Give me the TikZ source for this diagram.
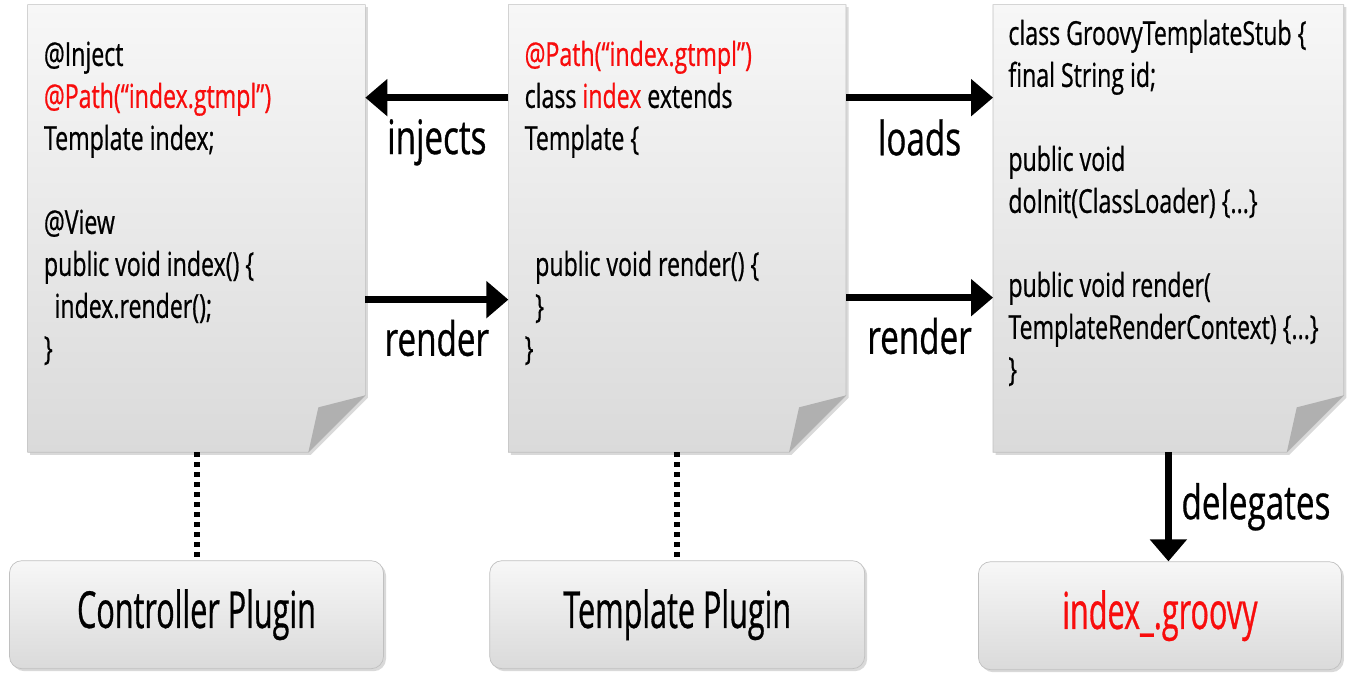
\documentclass[tikz,border=0pt]{standalone}
\usepackage{fontspec}
\setmainfont[FakeStretch=0.7, FakeBold=0.6]{Open Sans}
\newfontfamily\boxfont[FakeStretch=0.6, FakeBold=0.6]{Open Sans}
\usepackage{xcolor}
\usepackage{tikz}
\usetikzlibrary{shapes,arrows,arrows.meta,positioning,calc,fit,shadows}
\definecolor{pagetop}{RGB}{247, 247, 247}
\definecolor{pagebottom}{RGB}{218, 218, 218}
\definecolor{pageline}{RGB}{192, 192, 192}
\definecolor{foldgray}{RGB}{176, 176, 176}
\definecolor{annored}{RGB}{248, 12, 12}

\newcommand{\codefont}{\fontsize{18.8}{23.9}\selectfont}
% page outline with a folded bottom right corner
\newcommand{\dogear}[1]{%
  \path[draw=pageline, top color=pagetop, bottom color=pagebottom,
        drop shadow={shadow xshift=0.05cm, shadow yshift=-0.05cm, opacity=0.3}]
    (#1.north west) -- (#1.north east) -- ([yshift=1.14cm]#1.south east)
    -- ([xshift=-1.14cm]#1.south east) -- (#1.south west) -- cycle;
  \fill[foldgray] ([yshift=1.14cm]#1.south east) -- ([shift={(-0.94cm,0.9cm)}]#1.south east)
    -- ([xshift=-1.14cm]#1.south east) -- cycle;}

\begin{document}
\begin{tikzpicture}[
    docpage/.style={minimum width=6.74cm, minimum height=8.94cm, inner sep=0pt},
    codetext/.style={anchor=north west, inner sep=0pt, align=left, font=\codefont},
    plugin/.style={draw=pageline, rounded corners=7pt, top color=pagetop, bottom color=pagebottom,
        drop shadow={shadow xshift=0.05cm, shadow yshift=-0.05cm, opacity=0.3},
        minimum height=2.16cm, font=\boxfont\fontsize{29}{34}\selectfont},
    lbl/.style={font=\fontsize{27}{31}\selectfont},
    flow/.style={-{Triangle[length=0.44cm, width=0.72cm]}, line width=0.13cm},
    tie/.style={line width=0.12cm, dash pattern=on 0.1cm off 0.1cm}]
    \useasboundingbox (0,0) rectangle (27.22,13.62);

    % the three source pages
    \node [docpage] (ctrldoc) at (3.93,9.05) {};
    \node [docpage, right=2.86cm of ctrldoc] (tmpldoc) {};
    \node [docpage, minimum width=7cm, right=2.94cm of tmpldoc] (stubdoc) {};
    \dogear{ctrldoc}
    \dogear{tmpldoc}
    \dogear{stubdoc}

    \node [codetext] (ctrlcode) at ([shift={(0.32,-0.63)}]ctrldoc.north west)
        {\strut @Inject\\
         \color{annored}@Path(“index.gtmpl”)\\
         Template index;\\
         \strut\\
         @View\\
         public void index() \{\\
         \hspace*{6pt}index.render();\\
         \}};
    \node [codetext] (tmplcode) at ([shift={(0.32,-0.63)}]tmpldoc.north west)
        {\strut{\color{annored}@Path(“index.gtmpl”)}\\
         class {\color{annored}index} extends\\
         Template \{\\
         \strut\\
         \strut\\
         \hspace*{6pt}public void render() \{\\
         \hspace*{6pt}\}\\
         \}};
    \node [codetext] (stubcode) at ([shift={(0.3,-0.21)}]stubdoc.north west)
        {\strut class GroovyTemplateStub \{\\
         final String id;\\
         \strut\\
         public void\\
         doInit(ClassLoader) \{...\}\\
         \strut\\
         public void render(\\
         TemplateRenderContext) \{...\}\\
         \}};

    % plugins
    \node [plugin, minimum width=7.48cm, below=2.16cm of ctrldoc] (ctrlplug) {Controller Plugin};
    \node [plugin, minimum width=7.5cm, below=2.16cm of tmpldoc] (tmplplug) {Template Plugin};
    \node [plugin, minimum width=7.26cm, below=2.18cm of stubdoc, xshift=-0.17cm, text=annored] (grvplug) {index\_.groovy};

    \draw [flow] ([yshift=-1.86cm]tmpldoc.north west) -- node[below=0.25cm, lbl] {injects} ([yshift=-1.86cm]ctrldoc.north east);
    \draw [flow] ([yshift=-5.9cm]ctrldoc.north east) -- node[below=0.22cm, lbl] {render} ([yshift=-5.9cm]tmpldoc.north west);
    \draw [flow] ([yshift=-1.86cm]tmpldoc.north east) -- node[below=0.25cm, lbl] {loads} ([yshift=-1.86cm]stubdoc.north west);
    \draw [flow] ([yshift=-5.86cm]tmpldoc.north east) -- node[below=0.22cm, lbl] {render} ([yshift=-5.86cm]stubdoc.north west);

    \draw [tie] (ctrldoc.south) -- (ctrlplug.north);
    \draw [tie] (tmpldoc.south) -- (tmplplug.north);
    \draw [flow] (stubdoc.south) -- node[right=0.08cm, lbl] {delegates} (stubdoc.south |- grvplug.north);
\end{tikzpicture}
\end{document}
